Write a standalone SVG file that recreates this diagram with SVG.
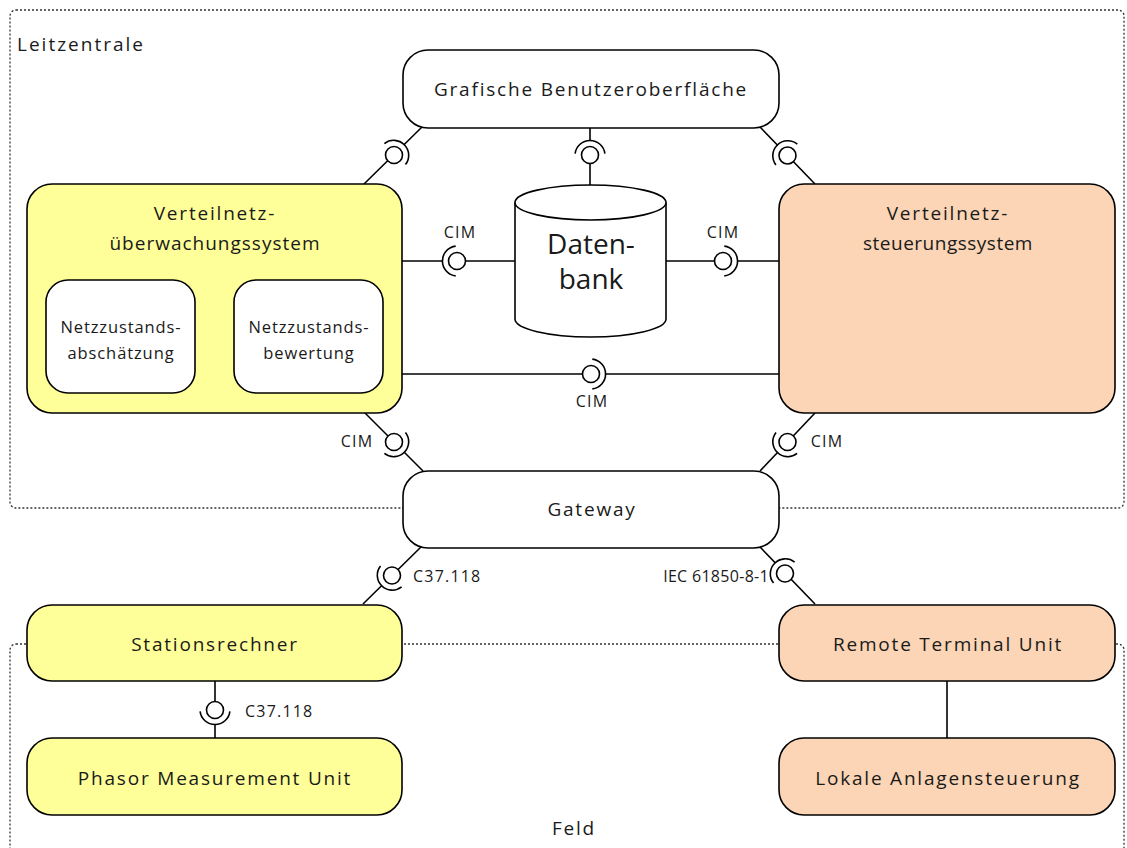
<svg xmlns="http://www.w3.org/2000/svg" xmlns:xlink="http://www.w3.org/1999/xlink" width="1127" height="848" viewBox="0 0 1127 848">
  <style>
    text { font-family: "Open Sans", "Liberation Sans", sans-serif; fill: #1a1a1a; }
    .zone { fill: none; stroke: #333; stroke-width: 1.3; stroke-dasharray: 2 2; }
    .box { stroke: #000; stroke-width: 1.6; }
    .white { fill: #fff; }
    .yellow { fill: #ffff99; }
    .peach { fill: #fbd5b5; }
    .lbl { font-size: 19px; text-anchor: middle; letter-spacing: 1.8px; }
    .sub { font-size: 16.5px; text-anchor: middle; letter-spacing: 0.9px; }
    .proto { font-size: 16px; letter-spacing: 1.2px; }
    .wire { stroke: #000; stroke-width: 1.6; fill: none; }
  </style>
  <defs>
    <!-- provided interface (ball) with required interface (socket) opening to the left -->
    <g id="iface">
      <path d="M0,-14 A14,14 0 0 0 0,14 Z" fill="#fff"/>
      <circle r="8.5" fill="#fff" stroke="#000" stroke-width="1.6"/>
      <path d="M-1.3,-14.9 A15,15 0 0 0 -1.3,14.9" fill="none" stroke="#000" stroke-width="1.6"/>
    </g>
  </defs>

  <rect width="1127" height="848" fill="#fff"/>

  <!-- zones -->
  <rect class="zone" x="10" y="10" width="1114" height="498" rx="6"/>
  <text x="17" y="51" style="font-size:19px; letter-spacing:2px">Leitzentrale</text>
  <rect class="zone" x="10" y="644" width="1114" height="230" rx="6"/>
  <text x="574" y="835" class="lbl">Feld</text>

  <!-- connectors -->
  <g id="connectors">
    <path class="wire" d="M422,127 L364,184"/>
    <path class="wire" d="M590,128 L590,188"/>
    <path class="wire" d="M760,127 L815,184"/>
    <path class="wire" d="M402,261 L515,261"/>
    <path class="wire" d="M666,261 L779,261"/>
    <path class="wire" d="M402,374 L779,374"/>
    <path class="wire" d="M365,413 L423,471"/>
    <path class="wire" d="M815,413 L760,471"/>
    <path class="wire" d="M422,546 L363,604"/>
    <path class="wire" d="M760,547 L815,604"/>
    <path class="wire" d="M215,681 L215,738"/>
    <path class="wire" d="M947,681 L947,738"/>

    <use xlink:href="#iface" transform="translate(394,155) rotate(135)"/>
    <use xlink:href="#iface" transform="translate(590,155) rotate(90)"/>
    <use xlink:href="#iface" transform="translate(787.5,155.5) rotate(46)"/>
    <use xlink:href="#iface" transform="translate(457,261)"/>
    <use xlink:href="#iface" transform="translate(723,261) rotate(180)"/>
    <use xlink:href="#iface" transform="translate(591,374) rotate(180)"/>
    <use xlink:href="#iface" transform="translate(394,442) rotate(-135)"/>
    <use xlink:href="#iface" transform="translate(787.5,442) rotate(-45)"/>
    <use xlink:href="#iface" transform="translate(392,575.5) rotate(-45)"/>
    <use xlink:href="#iface" transform="translate(785,573.5) rotate(45)"/>
    <use xlink:href="#iface" transform="translate(215,710) rotate(-90)"/>

    <text class="proto" x="460" y="238" text-anchor="middle">CIM</text>
    <text class="proto" x="723" y="238" text-anchor="middle">CIM</text>
    <text class="proto" x="592" y="407" text-anchor="middle">CIM</text>
    <text class="proto" x="357" y="447" text-anchor="middle">CIM</text>
    <text class="proto" x="827" y="447" text-anchor="middle">CIM</text>
    <text class="proto" x="413" y="582">C37.118</text>
    <text class="proto" x="769" y="582" text-anchor="end" style="letter-spacing:0.3px">IEC 61850-8-1</text>
    <text class="proto" x="245" y="717">C37.118</text>
  </g>

  <!-- nodes -->
  <g id="gui">
    <rect class="box white" x="403" y="50" width="376" height="78" rx="25"/>
    <text class="lbl" x="591" y="96">Grafische Benutzeroberfläche</text>
  </g>

  <g id="ueberwachung">
    <rect class="box yellow" x="27" y="184" width="375" height="229" rx="25"/>
    <text class="lbl" x="215" y="220">Verteilnetz-</text>
    <text class="lbl" x="215" y="250" style="letter-spacing:1px">überwachungssystem</text>
  </g>
  <g id="zustandsabschaetzung">
    <rect class="box white" x="46" y="280" width="149" height="113" rx="22"/>
    <text class="sub" x="121" y="333">Netzzustands-</text>
    <text class="sub" x="121" y="359">abschätzung</text>
  </g>
  <g id="zustandsbewertung">
    <rect class="box white" x="234" y="280" width="149" height="113" rx="22"/>
    <text class="sub" x="309" y="333">Netzzustands-</text>
    <text class="sub" x="309" y="359">bewertung</text>
  </g>

  <g id="datenbank">
    <path class="box white" d="M515,202.5 L515,319 A75.5,18 0 0 0 666,319 L666,202.5"/>
    <ellipse class="box white" cx="590.5" cy="202.5" rx="75.5" ry="17.5"/>
    <text x="591" y="254" style="font-size:28px" text-anchor="middle">Daten-</text>
    <text x="591" y="289" style="font-size:28px" text-anchor="middle">bank</text>
  </g>

  <g id="steuerung">
    <rect class="box peach" x="779" y="184" width="336" height="229" rx="25"/>
    <text class="lbl" x="948" y="220">Verteilnetz-</text>
    <text class="lbl" x="948" y="250" style="letter-spacing:0.5px">steuerungssystem</text>
  </g>

  <g id="gateway">
    <rect class="box white" x="403" y="471" width="376" height="77" rx="25"/>
    <text class="lbl" x="592" y="516">Gateway</text>
  </g>

  <g id="stationsrechner">
    <rect class="box yellow" x="27" y="605" width="375" height="76" rx="25"/>
    <text class="lbl" x="215" y="651">Stationsrechner</text>
  </g>
  <g id="rtu">
    <rect class="box peach" x="779" y="605" width="336" height="76" rx="25"/>
    <text class="lbl" x="948" y="651">Remote Terminal Unit</text>
  </g>
  <g id="pmu">
    <rect class="box yellow" x="27" y="738" width="375" height="77" rx="25"/>
    <text class="lbl" x="215" y="785">Phasor Measurement Unit</text>
  </g>
  <g id="anlagensteuerung">
    <rect class="box peach" x="779" y="738" width="336" height="77" rx="25"/>
    <text class="lbl" x="948" y="785">Lokale Anlagensteuerung</text>
  </g>
</svg>
